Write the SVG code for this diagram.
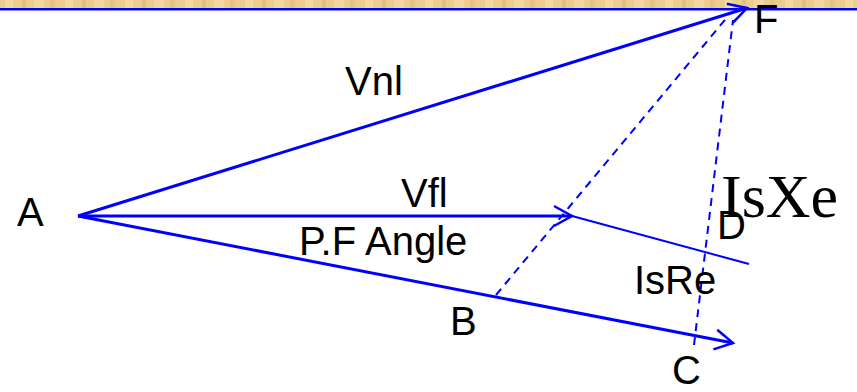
<svg xmlns="http://www.w3.org/2000/svg" width="857" height="392" viewBox="0 0 857 392">
  <defs>
    <style>
      .lbl { font-family: "Liberation Sans", Arial, sans-serif; font-size: 40px; fill: #000; }
      .serif { font-family: "Liberation Serif", "Times New Roman", serif; font-size: 62px; fill: #000; }
      .vec { stroke: #0000FF; stroke-width: 3; fill: none; }
      .thin { stroke: #0000FF; stroke-width: 2; fill: none; }
      .dash { stroke: #0000FF; stroke-width: 2; fill: none; stroke-dasharray: 8 6; }
    </style>
    <marker id="arr" markerUnits="userSpaceOnUse" markerWidth="30" markerHeight="30" refX="0" refY="0" orient="auto" overflow="visible">
      <path d="M-18,-10 L0,0 L-18,10" stroke="#0000FF" stroke-width="2.5" fill="none"/>
    </marker>
    <pattern id="wood" patternUnits="userSpaceOnUse" width="60" height="9">
      <rect width="60" height="9" fill="#EACD8F"/>
      <rect x="5" width="8" height="9" fill="#F3DA9E"/>
      <rect x="22" width="4" height="9" fill="#DFC07E"/>
      <rect x="34" width="10" height="9" fill="#F1D8A2"/>
      <rect x="50" width="5" height="9" fill="#E2C484"/>
    </pattern>
  </defs>

  <rect x="0" y="0" width="857" height="392" fill="#FFFFFF"/>
  <rect x="0" y="0" width="857" height="8" fill="url(#wood)"/>
  <line x1="0" y1="9.2" x2="857" y2="9.2" stroke="#0000FF" stroke-width="2.5"/>

  <g id="connectors">
    <line id="vnl" class="vec" x1="78" y1="216" x2="747" y2="8" marker-end="url(#arr)"/>
    <line id="vfl" class="vec" x1="78" y1="216" x2="572" y2="216" marker-end="url(#arr)"/>
    <line id="ac" class="vec" x1="78" y1="216" x2="733" y2="343" marker-end="url(#arr)"/>
    <line id="vfl-d" class="thin" x1="572" y1="216" x2="749" y2="264"/>
    <line id="b-f" class="dash" x1="496" y1="295" x2="729" y2="15"/>
    <line id="c-f" class="dash" x1="694" y1="345" x2="733" y2="20"/>
  </g>

  <g id="node-A"><text class="lbl" x="17" y="226">A</text></g>
  <g id="node-B"><text class="lbl" x="450" y="335">B</text></g>
  <g id="node-C"><text class="lbl" x="672" y="384">C</text></g>
  <g id="node-D"><text class="lbl" x="717" y="239">D</text></g>
  <g id="node-F"><text class="lbl" x="754" y="33">F</text></g>
  <g id="label-Vnl"><text class="lbl" x="345" y="95">Vnl</text></g>
  <g id="label-Vfl"><text class="lbl" x="401" y="207">Vfl</text></g>
  <g id="label-PF"><text class="lbl" x="299" y="255">P.F Angle</text></g>
  <g id="label-IsRe"><text class="lbl" x="634" y="294">IsRe</text></g>
  <g id="label-IsXe"><text class="serif" x="721" y="217">IsXe</text></g>
</svg>
